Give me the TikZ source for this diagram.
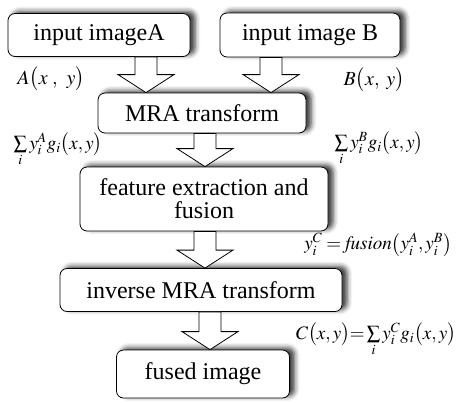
\documentclass[tikz,border=0pt]{standalone}
\usepackage{amsmath}
\usepackage{mathptmx}
\usepackage{fontspec}
\setmainfont{Liberation Serif}
\usetikzlibrary{calc,shadows.blur}

\tikzset{
  box/.style={draw, rounded corners=7pt, fill=white, line width=0.8pt,
    font=\fontsize{24}{26}\selectfont, align=center,
    blur shadow={shadow xshift=5pt, shadow yshift=2pt, shadow blur radius=5pt, shadow opacity=80}},
  hollow/.style={draw, fill=white, line width=0.8pt, line join=miter},
  lbl/.style={font=\fontsize{19}{21}\selectfont, inner sep=0pt}
}

% hollow block arrow at x=#1 from node #2 down to node #3
\newcommand{\hollowarrow}[3]{%
  \path[hollow] let \p1=(#2.south), \p2=(#3.north) in
    (#1pt-11pt,\y1) -- (#1pt+11pt,\y1) -- (#1pt+11pt,\y2+18pt) -- (#1pt+28pt,\y2+18pt)
    -- (#1pt,\y2) -- (#1pt-28pt,\y2+18pt) -- (#1pt-11pt,\y2+18pt) -- cycle;}

\begin{document}
\begin{tikzpicture}[x=1pt,y=-1pt]
\useasboundingbox (0,0) rectangle (462,402);

% Inputs
\node[box, minimum width=182pt, minimum height=43pt] (inA) at (99,35) {input imageA};
\node[box, minimum width=180pt, minimum height=44pt] (inB) at (310,35) {input image B};

% Transform and fusion
\node[box, minimum width=208pt, minimum height=40pt] (mra) at (202,113) {MRA transform};
\node[box, minimum width=248pt, minimum height=64pt, inner sep=2pt] (feat) at (204,199) {feature extraction and\\[-3pt] fusion};
\node[box, minimum width=282pt, minimum height=43pt] (inv) at (201,290) {inverse MRA transform};
\node[box, minimum width=173pt, minimum height=48pt] (fused) at (203,374) {fused image};

% Arrows
\hollowarrow{146}{inA}{mra}
\hollowarrow{271}{inB}{mra}
\hollowarrow{205}{mra}{feat}
\hollowarrow{205}{feat}{inv}
\hollowarrow{210}{inv}{fused}

% Formulas
\node[lbl, font=\fontsize{20}{22}\selectfont] (fA) at (51,79) {$A\bigl(x\;,\;\, y\bigr)$};
\node[lbl, font=\fontsize{20}{22}\selectfont] (fB) at (374,80) {$B\bigl(x,\; y\bigr)$};
\node[lbl] (sA) at (58,150) {$\sum\limits_i y_i^A g_i\bigl(x,y\bigr)$};
\node[lbl] (sB) at (379,149) {$\sum\limits_i y_i^B g_i\bigl(x,y\bigr)$};
\node[lbl] (fus) at (378,245) {$y_i^C = \mathit{fusion}\bigl(y_i^A, y_i^B\bigr)$};
\node[lbl] (fC) at (376,340) {$C\bigl(x,y\bigr){=}\sum\limits_i y_i^C g_i\bigl(x,y\bigr)$};
\end{tikzpicture}
\end{document}
